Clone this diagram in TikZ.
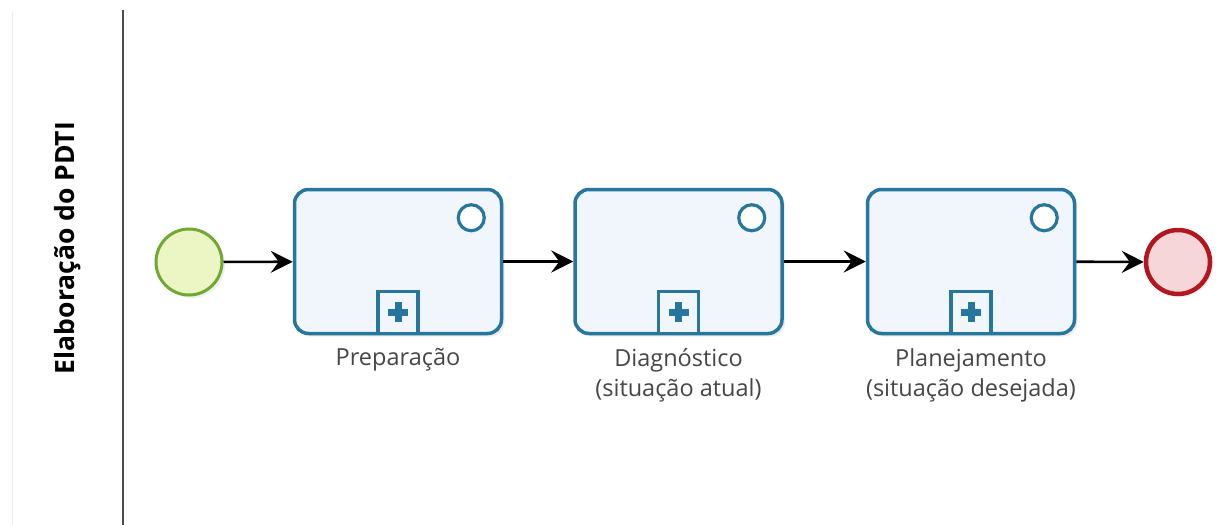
\documentclass[tikz,border=0pt]{standalone}
\usepackage{fontspec}
\setmainfont{Open Sans}
\usetikzlibrary{arrows.meta,shadows}
\definecolor{taskblue}{RGB}{38,118,158}
\definecolor{taskfill}{RGB}{240,246,252}
\definecolor{startgreen}{RGB}{112,168,52}
\definecolor{startfill}{RGB}{236,246,196}
\definecolor{endred}{RGB}{178,22,30}
\definecolor{endfill}{RGB}{246,214,216}
\definecolor{txtgray}{RGB}{70,70,70}
\tikzset{
  task/.style={draw=taskblue, line width=3.5pt, fill=taskfill, rounded corners=14pt,
    minimum width=207pt, minimum height=144pt, inner sep=0pt,
    drop shadow={opacity=0.15, shadow xshift=3pt, shadow yshift=-3pt}},
  marker/.style={draw=taskblue, line width=3.2pt, fill=white, circle, minimum size=26pt, inner sep=0pt},
  plusbox/.style={draw=taskblue, line width=3.2pt, fill=taskfill, minimum width=40pt, minimum height=42pt, inner sep=0pt},
  startev/.style={circle, draw=startgreen, line width=3pt, fill=startfill, minimum size=66pt, inner sep=0pt,
    drop shadow={opacity=0.12, shadow xshift=3pt, shadow yshift=-3pt}},
  endev/.style={circle, draw=endred, line width=4.5pt, fill=endfill, minimum size=64pt, inner sep=0pt,
    drop shadow={opacity=0.12, shadow xshift=3pt, shadow yshift=-3pt}},
  flow/.style={line width=2.6pt, -{Stealth[length=22pt, width=22pt, inset=8pt]}},
  lbl/.style={text=txtgray, font=\fontsize{23.5pt}{30pt}\selectfont, align=center, inner sep=0pt},
  title/.style={font=\fontsize{26.5pt}{30pt}\selectfont\bfseries, rotate=90, inner sep=0pt}
}
\begin{document}
\begin{tikzpicture}[x=1pt,y=-1pt]
\useasboundingbox (0,0) rectangle (1219,525);
\fill[white] (0,0) rectangle (1219,525);
\draw[black!8, line width=1pt] (12,12) -- (12,525);
\draw[black!70, line width=2pt] (123,10) -- (123,525);
\node[title] (title) at (68,248) {Elaboração do PDTI};

\node[startev] (start) at (189,262) {};
\node[task] (t1) at (398,261.5) {};
\node[task] (t2) at (678.5,261.5) {};
\node[task] (t3) at (971,261.5) {};
\node[endev] (end) at (1178,262) {};

\foreach \t in {t1,t2,t3}{
  \node[marker] (\t m) at ([xshift=-32pt,yshift=-30pt]\t.north east) {};
  \node[plusbox, anchor=south] (\t p) at (\t.south) {};
  \fill[taskblue] ([yshift=-22pt]\t p.north) ++(-10pt,-3.5pt) rectangle ++(20pt,7pt);
  \fill[taskblue] ([yshift=-22pt]\t p.north) ++(-3.5pt,-10pt) rectangle ++(7pt,20pt);
}

\node[lbl, anchor=north] (l1) at ([yshift=-13pt]t1.south) {Preparação};
\node[lbl, anchor=north] (l2) at ([yshift=-13pt]t2.south) {Diagnóstico\\(situação atual)};
\node[lbl, anchor=north] (l3) at ([yshift=-13pt]t3.south) {Planejamento\\(situação desejada)};

\draw[flow] (start) -- (t1);
\draw[flow] (t1) -- (t2);
\draw[flow] (t2) -- (t3);
\draw[flow] (t3) -- (end);
\end{tikzpicture}
\end{document}
